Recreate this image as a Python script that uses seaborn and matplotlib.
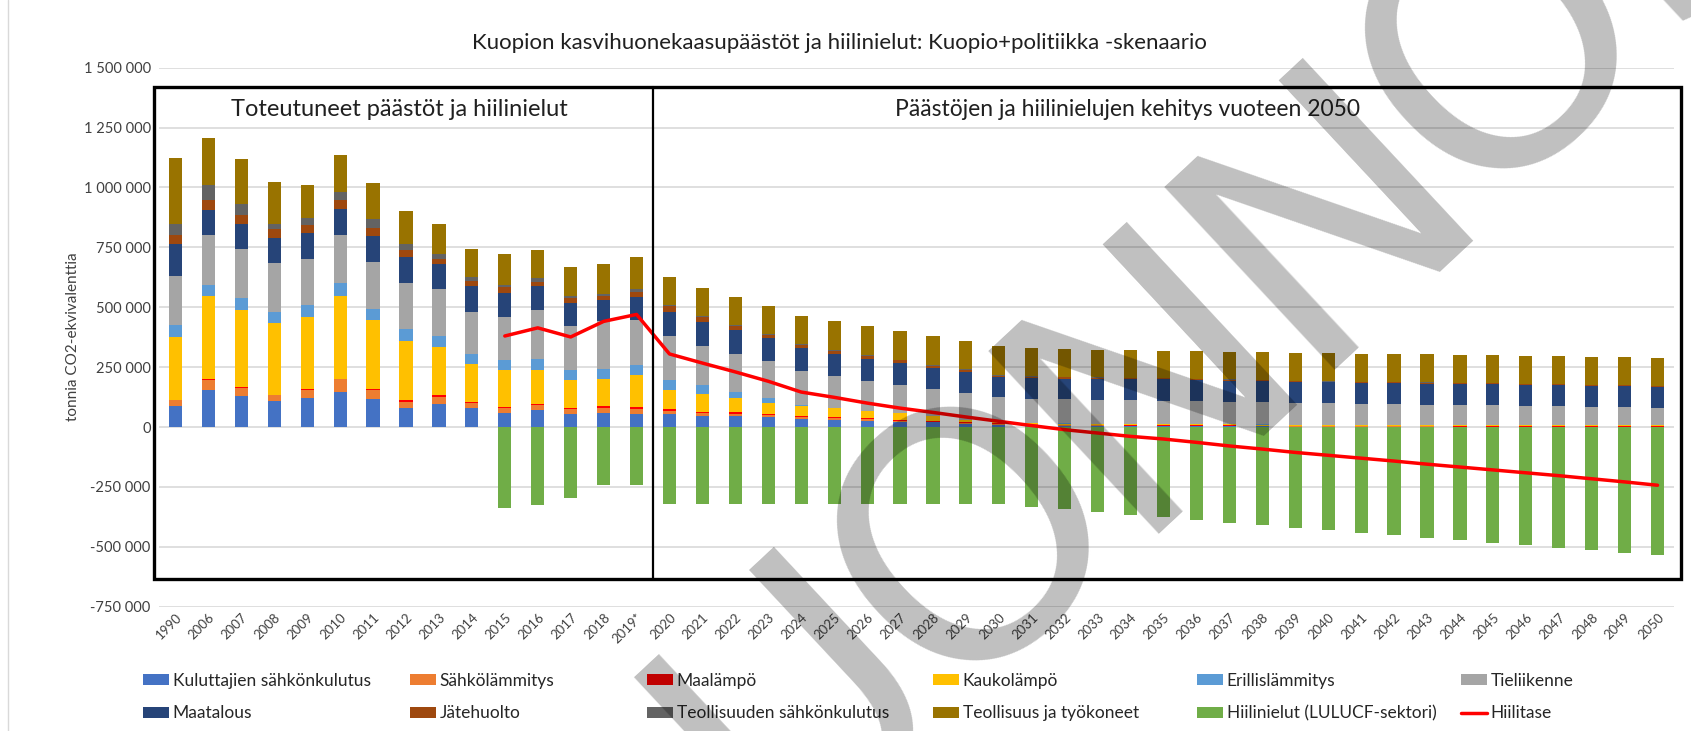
import numpy as np
import pandas as pd
import matplotlib
matplotlib.use("Agg")
import matplotlib.pyplot as plt
from matplotlib.patches import Patch, Rectangle
from matplotlib.lines import Line2D
from matplotlib.ticker import FuncFormatter
import seaborn as sns

# Year labels (x categories)
years = ["1990"] + [str(y) for y in range(2006, 2019)] + ["2019*"] + [str(y) for y in range(2020, 2051)]

# Emissions by sector, thousand tonnes CO2-eq
kuluttajat = [86, 153, 128, 107, 120, 147, 117, 79, 97, 79, 58, 72, 56, 60, 56,
              54, 47, 44, 40, 33, 30, 26, 21, 19, 14, 10,
              8, 6, 5, 4, 4, 3, 3, 3, 2, 2, 2, 2, 2, 1, 1, 1, 1, 1, 1, 1]
sahkolammitys = [25, 45, 37, 26, 35, 52, 37, 26, 30, 21, 20, 20, 18, 20, 20,
                 12, 10, 10, 9, 8, 7, 6, 5, 4, 4, 3,
                 3, 2, 2, 2, 2, 2, 2, 1, 1, 1, 1, 1, 1, 1, 1, 1, 1, 1, 1, 1]
maalampo = [0, 2, 2, 2, 2, 3, 3, 6, 5, 4, 5, 5, 5, 6, 7,
            8, 6, 7, 7, 6, 5, 5, 4, 3, 3, 2,
            2, 2, 2, 2, 2, 2, 2, 2, 1, 1, 1, 1, 1, 1, 1, 1, 1, 1, 1, 1]
kaukolampo = [265, 345, 323, 299, 302, 343, 288, 248, 202, 158, 153, 142, 116, 116, 133,
              81, 75, 60, 46, 40, 37, 28, 28, 18, 8, 4,
              3, 4, 4, 4, 4, 5, 5, 4, 5, 4, 4, 4, 4, 4, 4, 4, 4, 4, 4, 4]
erillislammitys = [52, 49, 48, 46, 49, 57, 47, 49, 46, 44, 45, 46, 44, 41, 41,
                   42, 38, 27, 18, 4, 2, 2, 2, 2, 1, 1,
                   1, 1, 1, 1, 1, 1, 1, 1, 1, 1, 1, 1, 1, 1, 1, 1, 1, 1, 1, 1]
tieliikenne = [202, 209, 206, 204, 194, 201, 199, 194, 197, 174, 178, 202, 181, 199, 188,
               184, 163, 157, 154, 144, 131, 127, 117, 112, 112, 105,
               100, 100, 99, 98, 97, 95, 93, 92, 91, 90, 88, 86, 84, 84, 82, 80, 78, 76, 75, 73]
maatalous = [135, 105, 105, 106, 109, 108, 106, 107, 102, 109, 102, 100, 97, 87, 97,
             99, 99, 98, 97, 96, 94, 90, 90, 90, 88, 84,
             88, 87, 87, 88, 89, 88, 88, 88, 87, 87, 88, 88, 88, 88, 88, 88, 88, 88, 87, 86]
jatehuolto = [35, 38, 37, 35, 33, 35, 33, 28, 23, 20, 23, 18, 23, 16, 21,
              24, 21, 17, 13, 12, 12, 12, 11, 8, 8, 6,
              5, 5, 5, 5, 5, 4, 4, 4, 4, 4, 4, 4, 4, 4, 4, 4, 4, 4, 4, 4]
teoll_sahko = [49, 65, 43, 24, 30, 37, 37, 28, 21, 17, 10, 18, 9, 11, 14,
               4, 5, 5, 4, 4, 3, 3, 3, 3, 3, 3,
               2, 2, 2, 2, 2, 2, 2, 2, 2, 1, 1, 1, 1, 1, 1, 1, 1, 1, 1, 1]
teollisuus = [275, 196, 189, 175, 137, 151, 153, 138, 126, 118, 127, 114, 121, 123, 132,
              118, 116, 116, 119, 117, 122, 122, 119, 122, 120, 121,
              120, 118, 116, 115, 113, 115, 115, 118, 116, 116, 115, 116, 117, 117, 117, 117, 118, 117, 117, 117]
hiilinielut = [0, 0, 0, 0, 0, 0, 0, 0, 0, 0, -340, -324, -296, -240, -240,
               -320, -320, -320, -320, -320, -320, -320, -320, -320, -320, -320,
               -332, -344, -355, -366, -375, -387, -399, -409, -420, -431, -442, -452, -462,
               -473, -484, -494, -503, -515, -524, -535]
hiilitase = [np.nan] * 10 + [380, 414, 376, 441, 470,
             305, 267, 230, 191, 146, 124, 100, 79, 61, 42, 24,
             6, -11, -25, -39, -50, -64, -79, -92, -106, -118, -130, -142, -155,
             -167, -179, -191, -203, -216, -229, -243]

sector_names = ["Kuluttajien sähkönkulutus", "Sähkölämmitys", "Maalämpö", "Kaukolämpö",
                "Erillislämmitys", "Tieliikenne", "Maatalous", "Jätehuolto",
                "Teollisuuden sähkönkulutus", "Teollisuus ja työkoneet"]
sector_values = [kuluttajat, sahkolammitys, maalampo, kaukolampo, erillislammitys,
                 tieliikenne, maatalous, jatehuolto, teoll_sahko, teollisuus]
sector_colors = ["#4472C4", "#ED7D31", "#FF0000", "#FFC000", "#5B9BD5",
                 "#A5A5A5", "#264478", "#9E480E", "#636363", "#997300"]
sink_color = "#70AD47"
line_color = "#FF0000"

df = pd.DataFrame(dict(zip(sector_names, sector_values)), index=years) * 1000
cum = df.cumsum(axis=1)

sns.set_style("white")
plt.rcParams["font.family"] = ["Lato", "DejaVu Sans"]

W, H = 1691, 731
fig, ax = plt.subplots(figsize=(W / 100, H / 100), dpi=100)
fig.subplots_adjust(left=159 / W, right=1674 / W, top=1 - 67.7 / H, bottom=1 - 606.7 / H)

# stacked bars: draw cumulative tops from the highest layer down
for name, color in reversed(list(zip(sector_names, sector_colors))):
    sns.barplot(x=years, y=cum[name].values, order=years, color=color, saturation=1,
                width=0.4, linewidth=0, errorbar=None, ax=ax, zorder=2)

sns.barplot(x=years, y=np.array(hiilinielut) * 1000, order=years, color=sink_color,
            saturation=1, width=0.4, linewidth=0, errorbar=None, ax=ax, zorder=2)

sns.lineplot(x=np.arange(len(years)), y=np.array(hiilitase) * 1000, color=line_color,
             linewidth=2.5, ax=ax, zorder=4)

ax.set_xlim(-0.5, len(years) - 0.5)
ax.set_ylim(-750000, 1500000)
ax.set_yticks(np.arange(-750000, 1500001, 250000))
ax.yaxis.set_major_formatter(FuncFormatter(lambda v, p: f"{v:,.0f}".replace(",", " ")))
ax.yaxis.grid(True, color="#d9d9d9", linewidth=1.2)
ax.set_axisbelow(True)
for s in ax.spines.values():
    s.set_visible(False)
ax.tick_params(length=0, labelsize=10.5, colors="#404040")
ax.tick_params(axis="y", pad=6)
ax.set_xticks(range(len(years)))
ax.set_xticklabels(years, rotation=45, ha="right", rotation_mode="anchor", fontsize=9.5)
ax.set_xlabel("")
ax.set_ylabel("")

# period boxes
ax.add_patch(Rectangle((-0.65, -636000), 46.37, 2054000, fill=False, edgecolor="black",
                       linewidth=2.4, clip_on=False, zorder=6))
ax.plot([14.5, 14.5], [-636000, 1418000], color="black", linewidth=1.6, clip_on=False, zorder=6)
ax.text(6.8, 1326000, "Toteutuneet päästöt ja hiilinielut", ha="center", va="center",
        fontsize=17, color="#202020")
ax.text(28.9, 1326000, "Päästöjen ja hiilinielujen kehitys vuoteen 2050", ha="center",
        va="center", fontsize=16.5, color="#202020")

fig.text(839 / W, 1 - 43 / H, "Kuopion kasvihuonekaasupäästöt ja hiilinielut: Kuopio+politiikka -skenaario",
         ha="center", va="center", fontsize=16, color="#202020")
fig.text(73 / W, 1 - 337 / H, "tonnia CO2-ekvivalenttia", rotation=90, ha="center",
         va="center", fontsize=11, color="#404040")

# left frame line of the chart area
fig.add_artist(Line2D([8 / W, 8 / W], [0, 1], color="#d9d9d9", linewidth=1, transform=fig.transFigure))

# legend: six columns, two rows
handles = [Patch(facecolor=c, edgecolor="none") for c in sector_colors]
handles.append(Patch(facecolor=sink_color, edgecolor="none"))
handles.append(Line2D([0], [0], color=line_color, linewidth=2.5))
labels = sector_names + ["Hiilinielut (LULUCF-sektori)", "Hiilitase"]
col_x = [143, 410, 647, 933, 1197, 1461]
for j, x in enumerate(col_x):
    fig.legend(handles=[handles[j], handles[j + 6]], labels=[labels[j], labels[j + 6]],
               loc="upper left", bbox_to_anchor=(x / W, 1 - 673 / H), frameon=False,
               fontsize=12.5, handlelength=1.5, handleheight=0.6, handletextpad=0.2,
               labelspacing=0.95, borderpad=0, borderaxespad=0)

# draft watermark
for i, ch in enumerate("LUONNOS"):
    cx = 958 + (i - 2) * 176 + 85
    cy = 520 - (i - 2) * 164 + 91
    fig.text(cx / W, 1 - cy / H, ch, rotation=43, rotation_mode="anchor", ha="center",
             va="baseline", fontsize=247, color="black", alpha=0.25,
             family="DejaVu Sans", zorder=10)

fig.savefig("out.png", dpi=100)
